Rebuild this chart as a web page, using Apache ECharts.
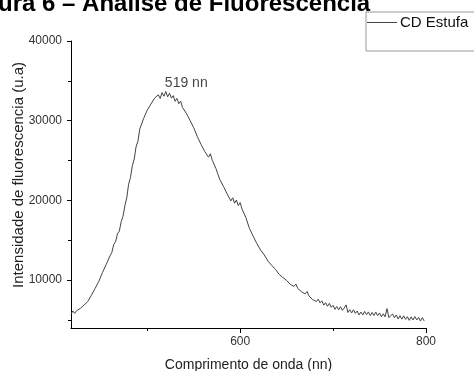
<!DOCTYPE html>
<html>
<head>
<meta charset="utf-8">
<script src="https://cdn.jsdelivr.net/npm/echarts@6/dist/echarts.min.js"></script>
<style>
  html, body { margin: 0; padding: 0; background: #fff; }
  #chart { width: 474px; height: 371px; }
</style>
</head>
<body>
<div id="chart"></div>
<script>
// emission spectrum, every 2 nm (noise included)
const wavelengths = [
  418,420,422,424,426,428,430,432,434,436,438,440,442,444,446,448,450,452,454,456,458,460,
  462,464,466,468,470,472,474,476,478,480,482,484,486,488,490,492,494,496,498,500,502,504,
  506,508,510,512,514,516,518,520,522,524,526,528,530,532,534,536,538,540,542,544,546,548,
  550,552,554,556,558,560,562,564,566,568,570,572,574,576,578,580,582,584,586,588,590,592,
  594,596,598,600,602,604,606,608,610,612,614,616,618,620,622,624,626,628,630,632,634,636,
  638,640,642,644,646,648,650,652,654,656,658,660,662,664,666,668,670,672,674,676,678,680,
  682,684,686,688,690,692,694,696,698,700,702,704,706,708,710,712,714,716,718,720,722,724,
  726,728,730,732,734,736,738,740,742,744,746,748,750,752,754,756,758,760,762,764,766,768,
  770,772,774,776,778,780,782,784,786,788,790,792,794,796,798
];
const intensity = [
  5700,6140,5830,6170,5960,6450,6390,6880,6770,7310,7300,8110,8270,8980,9100,9870,10110,10990,11220,12000,12170,13050,
  13490,14480,14820,15810,16150,17340,18020,19350,20340,22030,22870,24350,25180,26720,27410,28950,29100,30250,30350,31310,31180,32090,
  31980,32850,32620,33250,32790,33530,33070,33660,32990,33460,32830,33150,32430,32810,32140,32450,31650,31850,30950,30980,30060,30140,
  29140,29060,27990,27960,27010,27090,26120,26150,25430,25860,25040,25110,23990,23870,22650,22730,21770,21900,20820,20790,19940,20330,
  19660,20050,19360,19730,18940,19050,17900,17650,16500,16490,15520,15510,14590,14580,13780,13900,13160,13220,12390,12450,11840,12020,
  11360,11450,10730,10900,10340,10580,9970,10110,9470,9720,9220,9510,8960,9150,8550,8790,8290,8580,8030,8150,7560,7810,
  7320,7620,7150,7410,6860,7170,6730,7090,6590,6850,6340,6690,6280,6670,6220,6510,6900,5950,6290,5890,6290,5830,
  6130,5630,6000,5640,6080,5670,6020,5560,5950,5570,5990,5560,5890,5410,5780,5400,6430,5310,5080,5760,5280,5640,
  5130,5550,5110,5530,5090,5420,4960,5400,5000,5430,5010,5340,4870,5300,4890
];
const seriesName = 'CD Estufa';
const peakLabel = { wavelength: 519, value: 34660, text: '519 nn' };
const yLabelTicks = [10000, 20000, 30000, 40000];
const yMinorTicks = [5000, 15000, 25000, 35000];
const xLabelTicks = [600, 800];
const xMinorTicks = [500, 700];

const FONT = 'Liberation Sans, Arial, sans-serif';
const chart = echarts.init(document.getElementById('chart'), null, { renderer: 'canvas' });

const spectrum = wavelengths.map((w, i) => [w, intensity[i]]);

const baseX = {
  type: 'value', min: 418, max: 800, gridIndex: 0, position: 'bottom',
  splitLine: { show: false },
  axisLine: { show: true, onZero: false, lineStyle: { color: '#000', width: 1 } },
};
const baseY = {
  type: 'value', min: 4000, max: 40000, gridIndex: 0, position: 'left',
  splitLine: { show: false },
  axisLine: { show: true, onZero: false, lineStyle: { color: '#000', width: 1 } },
};

chart.setOption({
  animation: false,
  backgroundColor: '#fff',
  textStyle: { fontFamily: FONT },
  graphic: [
    {
      type: 'text', left: -2, top: -8,
      style: { text: 'ura 6 \u2013 An\u00e1lise de Fluoresc\u00eancia', font: 'bold 24px ' + FONT, fill: '#000' }
    },
    {
      type: 'text', left: 11, top: 62, rotation: Math.PI / 2,
      style: { text: 'Intensidade de fluorescencia (u.a)', font: '15px ' + FONT, fill: '#222' }
    }
  ],
  legend: {
    data: [seriesName],
    left: 366, top: 12,
    icon: 'rect', itemWidth: 30, itemHeight: 1,
    itemGap: 0,
    padding: [3, 30, 21, 1],
    borderColor: '#9a9a9a', borderWidth: 1,
    textStyle: { fontSize: 15, color: '#111', fontFamily: FONT, padding: [0, 0, 0, -2] },
    itemStyle: { color: '#444' },
  },
  grid: { left: 71, right: 48, top: 41, bottom: 43, outerBoundsMode: 'none', containLabel: false },
  xAxis: [
    Object.assign({}, baseX, {
      name: 'Comprimento de onda (nn)', nameLocation: 'middle', nameGap: 30,
      nameTextStyle: { fontSize: 14, color: '#222', fontFamily: FONT },
      axisTick: { show: true, length: 5, customValues: xLabelTicks, lineStyle: { color: '#000' } },
      axisLabel: { show: true, customValues: xLabelTicks, margin: 8, fontSize: 12, color: '#333', fontFamily: FONT },
    }),
    Object.assign({}, baseX, {
      axisLine: { show: false },
      axisTick: { show: true, length: 3, customValues: xMinorTicks, lineStyle: { color: '#000' } },
      axisLabel: { show: false },
    }),
  ],
  yAxis: [
    Object.assign({}, baseY, {
      axisTick: { show: true, length: 4, customValues: yLabelTicks, lineStyle: { color: '#000' } },
      axisLabel: {
        show: true, customValues: yLabelTicks, margin: 9, fontSize: 12, color: '#333', fontFamily: FONT,
        formatter: v => String(v),
      },
    }),
    Object.assign({}, baseY, {
      axisLine: { show: false },
      axisTick: { show: true, length: 3, customValues: yMinorTicks, lineStyle: { color: '#000' } },
      axisLabel: { show: false },
    }),
  ],
  series: [
    {
      name: seriesName,
      type: 'line',
      data: spectrum,
      showSymbol: false,
      symbol: 'none',
      lineStyle: { color: '#444', width: 1 },
      itemStyle: { color: '#444' },
    },
    {
      type: 'scatter',
      data: [[peakLabel.wavelength, peakLabel.value]],
      symbolSize: 0,
      silent: true,
      label: {
        show: true, position: 'right', distance: 0,
        formatter: peakLabel.text, fontSize: 14, color: '#111', fontFamily: FONT,
      },
    },
  ],
});
</script>
</body>
</html>
